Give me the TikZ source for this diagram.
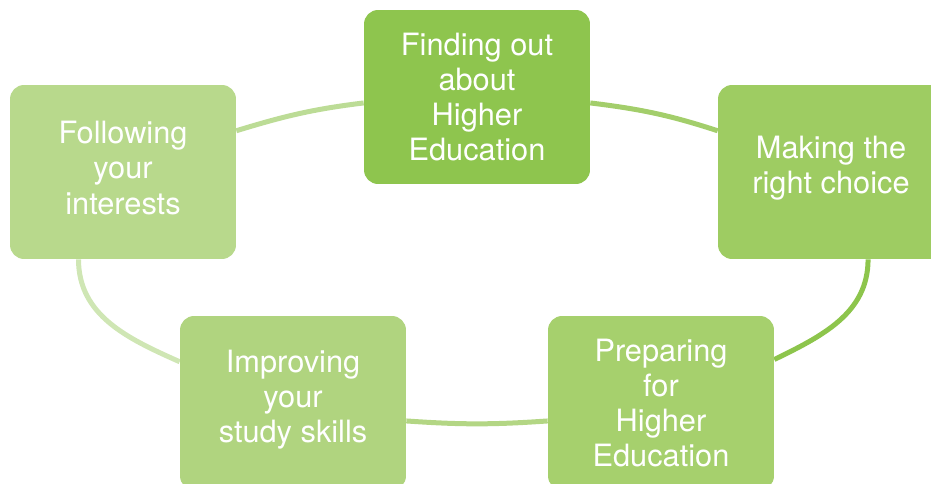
\documentclass[tikz,border=0pt]{standalone}
\usepackage{fontspec}
\setmainfont{TeX Gyre Heros}
\usetikzlibrary{backgrounds}

\definecolor{followc}{HTML}{B8D98C}
\definecolor{findc}{HTML}{8EC54E}
\definecolor{makec}{HTML}{9ECC62}
\definecolor{prepc}{HTML}{A6D06D}
\definecolor{improvec}{HTML}{B0D47F}
\definecolor{ringa}{HTML}{BCDC96}
\definecolor{ringb}{HTML}{A3CE6B}
\definecolor{ringc}{HTML}{8DC54C}
\definecolor{ringd}{HTML}{B3D684}
\definecolor{ringe}{HTML}{CFE6B4}

\begin{document}
\begin{tikzpicture}[x=0.02cm,y=0.02cm,
    stage/.style={rectangle, rounded corners=0.28cm, minimum width=4.52cm,
      minimum height=3.48cm, text=white, align=center,
      font=\fontsize{17.5}{20}\selectfont},
    ring/.style={line width=0.1cm}]
  \useasboundingbox (0,0) rectangle (931,484);
  % the five stages
  \node[stage, fill=followc, text depth=0.17cm] (follow) at (123,312) {Following\\your\\interests};
  \node[stage, fill=findc] (finding) at (477,387) {Finding out\\about\\Higher\\Education};
  \node[stage, fill=makec, text depth=0.3cm] (making) at (831,312) {Making the\\right choice};
  \node[stage, fill=prepc] (prep) at (661,81) {Preparing\\for\\Higher\\Education};
  \node[stage, fill=improvec, text depth=0.26cm] (improve) at (293,81) {Improving\\your\\study skills};
  % the ring behind them
  \begin{scope}[on background layer]
    \draw[ring, draw=ringa] (follow.20) to[out=17,in=187] (finding.183);
    \draw[ring, draw=ringb] (finding.-3) to[out=-7,in=162] (making.160);
    \draw[ring, draw=ringc] (making.-67) to[out=-90,in=26] (prep.21);
    \draw[ring, draw=ringd] (prep.189) to[out=184,in=-4] (improve.-9);
    \draw[ring, draw=ringe] (improve.160) to[out=156,in=270] (follow.243);
  \end{scope}
\end{tikzpicture}
\end{document}
